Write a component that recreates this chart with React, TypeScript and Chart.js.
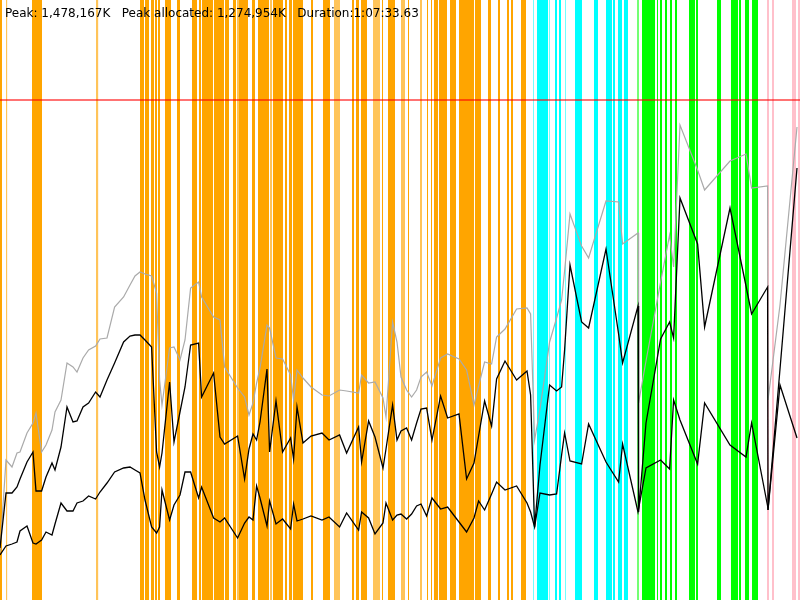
import React, { useEffect, useRef } from "react";
import { Chart, registerables } from "chart.js";

Chart.register(...registerables);

// ---- axis ranges ----
const X_MAX_S = 4000; // seconds
const Y_MAX_MB = 1800; // MB
const MAX_HEAP_MB = 1500;

const SUMMARY = "Peak: 1,478,167K   Peak allocated: 1,274,954K   Duration:1:07:33.63";

// ---- sample times (s) ----
const TIME_S = [
  0, 30, 60, 85, 100, 135, 165, 180, 208, 230, 260, 275, 305, 335, 365, 385, 415, 443, 478, 500,
  535, 573, 618, 650, 675, 700, 725, 758, 783, 798, 810, 848, 870, 900, 925, 953, 993, 1008, 1068, 1100,
  1123, 1188, 1223, 1245, 1265, 1283, 1300, 1335, 1348, 1380, 1413, 1453, 1468, 1485, 1515, 1555, 1610, 1645, 1698, 1733,
  1793, 1808, 1843, 1875, 1915, 1930, 1963, 1985, 2005, 2033, 2058, 2083, 2105, 2133, 2160, 2203, 2238, 2295, 2333, 2370,
  2393, 2423, 2458, 2483, 2525, 2583, 2635, 2653, 2673, 2700, 2748, 2783, 2808, 2823, 2850, 2908, 2943, 3030, 3093, 3113,
  3190, 3193, 3230, 3303, 3348, 3368, 3400, 3488, 3523, 3650, 3730, 3758, 3838, 3840, 3900, 3985,
];

// ---- heap committed (gray) MB ----
const COMMITTED_MB = [
  144, 420, 399, 441, 444, 501, 531, 561, 444, 465, 510, 564, 600, 711, 699, 684, 726, 750, 762, 783,
  786, 879, 909, 945, 972, 984, 978, 972, 921, 660, 585, 756, 759, 720, 780, 936, 954, 909, 849, 840,
  699, 636, 609, 555, 591, 651, 696, 825, 816, 726, 723, 675, 600, 690, 666, 639, 615, 612, 630, 627,
  621, 675, 651, 654, 606, 549, 834, 774, 669, 630, 609, 630, 669, 684, 642, 726, 738, 723, 690, 585,
  642, 714, 708, 789, 813, 873, 876, 858, 480, 573, 774, 846, 900, 987, 1158, 1062, 1026, 1197, 1194, 1068,
  1101, 591, 717, 954, 1095, 999, 1425, 1290, 1230, 1317, 1338, 1236, 1242, 600, 885, 1419,
];

// ---- heap used (black, upper) MB ----
const USED_MB = [
  156, 321, 321, 339, 363, 414, 444, 327, 327, 369, 411, 390, 459, 579, 534, 537, 579, 591, 624, 609,
  660, 711, 774, 792, 795, 795, 780, 759, 444, 399, 441, 654, 474, 564, 639, 765, 771, 609, 681, 489,
  468, 492, 363, 453, 498, 480, 534, 693, 444, 597, 444, 486, 423, 579, 471, 492, 501, 480, 495, 441,
  519, 414, 537, 489, 396, 453, 585, 480, 507, 516, 480, 531, 573, 576, 480, 612, 546, 558, 363, 411,
  492, 597, 522, 663, 717, 660, 687, 615, 219, 405, 645, 627, 639, 750, 1005, 834, 816, 1053, 798, 711,
  882, 264, 531, 783, 834, 786, 1206, 1068, 819, 1176, 942, 858, 939, 270, 693, 1296,
];

// ---- live after GC (black, lower) MB ----
const LIVE_MB = [
  135, 162, 168, 174, 207, 222, 171, 168, 180, 204, 195, 228, 291, 267, 267, 291, 297, 312, 303, 324,
  351, 384, 396, 399, 390, 381, 300, 219, 201, 219, 330, 240, 285, 315, 384, 384, 306, 339, 246, 234,
  246, 186, 231, 249, 240, 342, 306, 222, 297, 228, 243, 213, 288, 237, 243, 252, 240, 249, 219, 261,
  210, 264, 246, 198, 231, 291, 240, 255, 258, 243, 258, 282, 288, 252, 306, 273, 279, 234, 204, 246,
  297, 270, 318, 354, 330, 342, 291, 264, 219, 321, 315, 318, 435, 501, 417, 408, 528, 414, 354, 468,
  264, 264, 396, 420, 393, 600, 540, 408, 591, 465, 429, 531, 282, 270, 645, 486,
];

// ---- GC event intervals [start s, end s] ----
const GC_ORANGE = [
  [0, 10], [160, 210], [700, 720], [725, 745], [755, 770], [775, 785], [790, 800], [825, 855], [885, 900],
  [960, 985], [995, 1005], [1010, 1065], [1070, 1120], [1125, 1145], [1165, 1180], [1195, 1240], [1260, 1275],
  [1290, 1345], [1365, 1415], [1425, 1435], [1445, 1460], [1465, 1515], [1555, 1565], [1615, 1650], [1760, 1770],
  [1780, 1795], [1805, 1835], [1910, 1915], [1940, 1975], [2040, 2045], [2135, 2140], [2155, 2160], [2170, 2190],
  [2195, 2235], [2250, 2280], [2295, 2370], [2375, 2405], [2440, 2455], [2490, 2500], [2535, 2545], [2555, 2565],
  [2605, 2630],
];
const GC_ORANGE_LIGHT = [
  [30, 37], [480, 492], [1185, 1195], [1350, 1360], [1670, 1700], [1865, 1900], [2005, 2025], [2100, 2110],
];
const GC_CYAN = [
  [2685, 2740], [2775, 2785], [2795, 2805], [2875, 2910], [2970, 2990], [3030, 3060], [3065, 3075], [3090, 3110],
  [3120, 3140],
];
const GC_CYAN_LIGHT = [[2665, 2670], [2745, 2750], [2825, 2830]];
const GC_GREEN = [
  [3210, 3275], [3285, 3290], [3300, 3310], [3325, 3335], [3350, 3360], [3375, 3385], [3445, 3475], [3480, 3490],
  [3585, 3605], [3655, 3690], [3695, 3705], [3725, 3745], [3760, 3790],
];
const GC_GREEN_LIGHT = [[3185, 3195]];
const GC_PINK = [[3835, 3845], [3860, 3870], [3960, 3980], [3990, 4000]];

const series = (vals: number[]) => TIME_S.map((t, i) => ({ x: t, y: vals[i] }));
const bands = (iv: number[][]) =>
  iv.flatMap(([a, b]) => [
    { x: a, y: Y_MAX_MB },
    { x: b, y: Y_MAX_MB },
    { x: b, y: null },
  ]);

const lineDs = (label: string, vals: number[], color: string, width: number) => ({
  label,
  data: series(vals),
  borderColor: color,
  borderWidth: width,
  pointRadius: 0,
  fill: false,
  tension: 0,
  order: 0,
});

const bandDs = (label: string, iv: number[][], color: string) => ({
  label,
  data: bands(iv),
  borderColor: "rgba(0,0,0,0)",
  borderWidth: 0,
  backgroundColor: color,
  pointRadius: 0,
  fill: "origin",
  spanGaps: false,
  tension: 0,
  order: 5,
});

export default function App() {
  const ref = useRef<HTMLCanvasElement | null>(null);

  useEffect(() => {
    if (!ref.current) return;
    const chart = new Chart(ref.current, {
      type: "line",
      data: {
        datasets: [
          lineDs("Live after GC", LIVE_MB, "#000000", 1.3),
          lineDs("Used", USED_MB, "#000000", 1.3),
          lineDs("Committed", COMMITTED_MB, "#aaaaaa", 1.2),
          {
            label: "Max heap",
            data: [
              { x: 0, y: MAX_HEAP_MB },
              { x: X_MAX_S, y: MAX_HEAP_MB },
            ],
            borderColor: "rgba(255,0,0,0.55)",
            borderWidth: 2,
            pointRadius: 0,
            fill: false,
            order: 1,
          },
          bandDs("GC young", GC_ORANGE, "#ffa500"),
          bandDs("GC young (light)", GC_ORANGE_LIGHT, "rgba(255,165,0,0.65)"),
          bandDs("GC cyan", GC_CYAN, "#00ffff"),
          bandDs("GC cyan (light)", GC_CYAN_LIGHT, "rgba(0,255,255,0.55)"),
          bandDs("GC green", GC_GREEN, "#00ff00"),
          bandDs("GC green (light)", GC_GREEN_LIGHT, "rgba(0,255,0,0.55)"),
          bandDs("GC pink", GC_PINK, "#ffc0cb"),
        ] as any,
      },
      options: {
        animation: false,
        responsive: false,
        events: [],
        layout: { padding: 0 },
        plugins: {
          legend: { display: false },
          tooltip: { enabled: false },
          title: { display: false },
        },
        scales: {
          x: { type: "linear", min: 0, max: X_MAX_S, display: false },
          y: { type: "linear", min: 0, max: Y_MAX_MB, display: false },
        },
      } as any,
    });
    return () => chart.destroy();
  }, []);

  return (
    <div
      style={{
        position: "fixed",
        left: 0,
        top: 0,
        width: 800,
        height: 600,
        background: "#ffffff",
        overflow: "hidden",
      }}
    >
      <canvas ref={ref} width={800} height={600} style={{ display: "block", width: 800, height: 600 }} />
      <div
        style={{
          position: "absolute",
          left: 5,
          top: 6,
          font: '12px "DejaVu Sans", sans-serif',
          lineHeight: "14px",
          color: "#000",
          whiteSpace: "pre",
        }}
      >
        {SUMMARY}
      </div>
    </div>
  );
}
